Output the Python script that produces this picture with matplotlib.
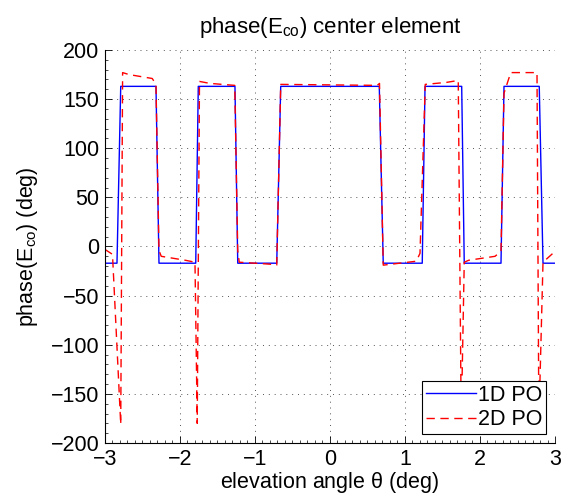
import matplotlib
matplotlib.use('Agg')
import matplotlib.pyplot as plt
from matplotlib.ticker import MultipleLocator

plt.rcParams['font.family'] = ['Liberation Sans', 'DejaVu Sans']
plt.rcParams['mathtext.fontset'] = 'custom'
plt.rcParams['mathtext.rm'] = 'Liberation Sans'
plt.rcParams['mathtext.it'] = 'Liberation Sans'

# 1D PO phase (deg) vs elevation angle (deg)
theta_1d = [-3.0, -2.84, -2.79, -2.32, -2.28, -1.79, -1.756, -1.267, -1.23,
            -0.71, -0.657, 0.657, 0.71, 1.23, 1.267, 1.756, 1.79, 2.28, 2.32,
            2.79, 2.84, 3.0]
phase_1d = [-17, -17, 163, 163, -17, -17, 163, 163, -17,
            -17, 163, 163, -17, -17, 163, 163, -17, -17, 163,
            163, -17, -17]

# 2D PO phase (deg)
theta_2d = [-3.0, -2.9, -2.79, -2.765, -2.68, -2.37, -2.32, -2.28, -2.25,
            -1.93, -1.80, -1.77, -1.74, -1.60, -1.27, -1.23, -1.21, -0.80,
            -0.71, -0.657, 0.63, 0.66, 0.71, 1.15, 1.20, 1.27, 1.55, 1.71,
            1.75, 1.79, 1.85, 2.20, 2.28, 2.32, 2.41, 2.76, 2.785, 2.84, 3.0]
phase_2d = [-3, -8, -181, 177, 175, 171, 165, -4, -10,
            -14, -16, -180, 168, 166, 164, -4, -16, -18,
            -19, 165, 164, 166, -19, -15, -7, 165, 167, 169,
            -180, -16, -14, -10, -5, 156, 177, 177, -180, -16, -5]

fs = 15.5

fig = plt.figure(figsize=(5.69, 5.01), dpi=100)
ax = fig.add_axes([0.1845, 0.1158, 0.7909, 0.7844])

ax.plot(theta_1d, phase_1d, color='blue', lw=1.0, label='1D PO')
ax.plot(theta_2d, phase_2d, color='red', lw=1.0, ls=(0, (6, 4)), label='2D PO')

ax.set_xlim(-3, 3)
ax.set_ylim(-200, 200)
ax.set_xticks([-3, -2, -1, 0, 1, 2, 3])
ax.set_yticks(range(-200, 201, 50))
ax.xaxis.set_minor_locator(MultipleLocator(0.1))
ax.yaxis.set_minor_locator(MultipleLocator(10))
ax.set_xticklabels(['\u22123', '\u22122', '\u22121', '0', '1', '2', '3'])
ax.set_yticklabels(['\u2212200', '\u2212150', '\u2212100', '\u221250', '0',
                    '50', '100', '150', '200'])
ax.tick_params(which='both', direction='in', labelsize=fs, top=False, right=False)
ax.tick_params(which='major', length=5, width=0.6, pad=4)
ax.tick_params(which='minor', length=2.5, width=0.5)
for s in ['top', 'right']:
    ax.spines[s].set_visible(False)
for s in ['left', 'bottom']:
    ax.spines[s].set_linewidth(0.8)

ax.grid(True, which='major', ls=(0, (1, 5)), color='#555555', lw=0.7)

ax.set_title(r'phase(E$_{\mathrm{co}}$) center element', fontsize=16, pad=12)
ax.set_xlabel(r'elevation angle $\theta$ (deg)', fontsize=fs, labelpad=0)
ax.set_ylabel(r'phase(E$_{\mathrm{co}}$) (deg)', fontsize=fs, labelpad=8)

leg = ax.legend(loc='lower right', fontsize=fs, fancybox=False, framealpha=1,
                edgecolor='black', borderaxespad=0.4, handlelength=2.3,
                handletextpad=0.1, borderpad=0.2, labelspacing=0.15)
leg.get_frame().set_linewidth(0.8)

fig.savefig('out.png', dpi=100)
